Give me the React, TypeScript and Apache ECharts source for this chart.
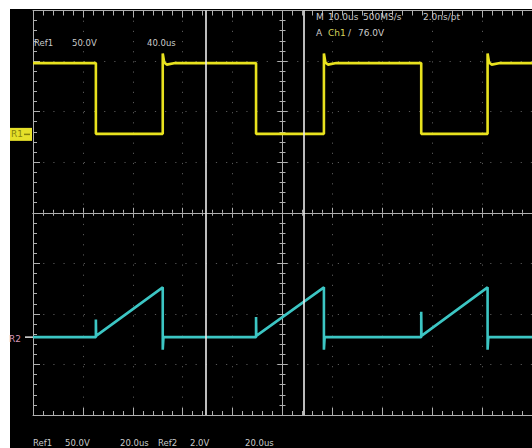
import React, { useEffect, useRef } from "react";
import * as echarts from "echarts";

// ---- data (time in µs relative to screen centre, volts) ----
const ref1TimeUs = [-50, -37.4, -37.4, -24.0, -24.0, -23.7, -23.2, -21.5, -5.3, -5.3, 8.3, 8.3, 8.6, 9.1, 10.8, 27.8, 27.8, 41.1, 41.1, 41.4, 41.9, 43.6, 50];
const ref1Volts = [70.5, 70.5, 0.5, 0.5, 80, 71, 69, 70.5, 70.5, 0.5, 0.5, 80, 71, 69, 70.5, 70.5, 0.5, 0.5, 80, 71, 69, 70.5, 70.5];

const ref2TimeUs = [-50, -37.4, -37.4, -37.35, -24.0, -24.0, -23.85, -5.3, -5.3, -5.25, 8.3, 8.3, 8.45, 27.8, 27.8, 27.85, 41.1, 41.1, 41.25, 50];
const ref2Volts = [0, 0, 0.7, 0.05, 1.97, -0.5, 0, 0, 0.8, 0.05, 1.97, -0.5, 0, 0, 1.0, 0.05, 1.97, -0.5, 0, 0];

const cursorTimesUs = [-15.35, 4.35];

const topLeftLabels = ["Ref1", "50.0V", "40.0us"];
const topRightLine1 = ["M", "10.0us", "500MS/s", "2.0ns/pt"];
const topRightLine2 = ["A", "Ch1", "/", "76.0V"];
const bottomLabels = ["Ref1", "50.0V", "20.0us", "Ref2", "2.0V", "20.0us"];
const markerLabels = ["R1", "R2"];

// ---- scales ----
const HALF_DIVS = 4;
const TIME_MIN = -50;
const TIME_MAX = 50;
const TIME_PER_DIV = 10;
const REF1_V_PER_DIV = 50;
const REF1_OFFSET_DIV = 1.55;
const REF2_V_PER_DIV = 2;
const REF2_OFFSET_DIV = -2.46;

const zip = (xs: number[], ys: number[]) => xs.map((x, i) => [x, ys[i]]);

export default function App() {
  const ref = useRef<HTMLDivElement>(null);
  useEffect(() => {
    const chart = echarts.init(ref.current!, null, { renderer: "svg" });
    const grey = "#b0b0b0";
    const lineStyle = { color: grey, width: 1 };
    const dotted = { color: "#565656", width: 1, type: [1.2, 8.96] };
    const xBase = {
      type: "value",
      min: TIME_MIN,
      max: TIME_MAX,
      interval: TIME_PER_DIV,
      axisLabel: { show: false },
      splitLine: { show: false },
    };
    const yBase = {
      type: "value",
      min: -HALF_DIVS,
      max: HALF_DIVS,
      interval: 1,
      axisLabel: { show: false },
      splitLine: { show: false },
    };
    const mkAxis = (base: any, position: string, onZero: boolean, major: number, minor: number, extra: any = {}) => ({
      ...base,
      position,
      axisLine: { show: true, onZero, onZeroAxisIndex: 0, lineStyle },
      axisTick: { show: true, inside: true, length: major, lineStyle },
      minorTick: { show: true, splitNumber: 5, length: minor, lineStyle },
      ...extra,
    });

    chart.setOption({
      animation: false,
      backgroundColor: "#000",
      grid: { left: 33, top: 10.5, width: 508, height: 404.5, containLabel: false },
      xAxis: [
        mkAxis(xBase, "bottom", false, 7, 4, { splitLine: { show: true, lineStyle: dotted } }),
        mkAxis(xBase, "top", false, 7, 5),
        mkAxis(xBase, "bottom", true, 5, 3),
        mkAxis(xBase, "top", true, 5, 3),
      ],
      yAxis: [
        mkAxis(yBase, "left", false, 7, 4, { splitLine: { show: true, lineStyle: dotted } }),
        mkAxis(yBase, "left", true, 5, 3),
        mkAxis(yBase, "right", true, 5, 3),
        {
          type: "value",
          show: false,
          position: "left",
          min: (-HALF_DIVS - REF1_OFFSET_DIV) * REF1_V_PER_DIV,
          max: (HALF_DIVS - REF1_OFFSET_DIV) * REF1_V_PER_DIV,
          splitLine: { show: false },
        },
        {
          type: "value",
          show: false,
          position: "left",
          min: (-HALF_DIVS - REF2_OFFSET_DIV) * REF2_V_PER_DIV,
          max: (HALF_DIVS - REF2_OFFSET_DIV) * REF2_V_PER_DIV,
          splitLine: { show: false },
        },
      ],
      series: [
        {
          name: "Ref1",
          type: "line",
          xAxisIndex: 0,
          yAxisIndex: 3,
          data: zip(ref1TimeUs, ref1Volts),
          showSymbol: false,
          symbol: "none",
          lineStyle: { color: "#e8e21e", width: 2.6 },
          z: 3,
          markLine: {
            silent: true,
            symbol: ["none", "none"],
            label: { show: false },
            lineStyle: { color: "#ececec", width: 1.6, type: "solid" },
            data: cursorTimesUs.map((t) => ({ xAxis: t })),
            z: 5,
          },
        },
        {
          name: "Ref2",
          type: "line",
          xAxisIndex: 0,
          yAxisIndex: 4,
          data: zip(ref2TimeUs, ref2Volts),
          showSymbol: false,
          symbol: "none",
          lineStyle: { color: "#3cc6c4", width: 2.6 },
          z: 3,
        },
      ],
    });

    const y1 = chart.convertToPixel({ yAxisIndex: 3 }, 0) as number;
    const y2 = chart.convertToPixel({ yAxisIndex: 4 }, 0) as number;
    const txt = "#cacaca";
    const font = "DejaVu Sans";
    const text = (s: string, x: number, y: number, size: number, fill = txt, va = "middle", z = 80) => ({
      type: "text",
      x,
      y,
      z,
      style: { text: s, fill, fontSize: size, fontFamily: font, verticalAlign: va, align: "left" },
    });
    const tlX = [34, 72, 147];
    const tr1X = [316, 328, 363, 423];
    const tr2X = [316, 328, 348, 358];
    const botX = [33, 65, 120, 158, 190, 245];

    chart.setOption({
      graphic: [
        { type: "rect", z: 100, shape: { x: 0, y: 0, width: 532, height: 9 }, style: { fill: "#fff" } },
        { type: "rect", z: 100, shape: { x: 0, y: 0, width: 10, height: 448 }, style: { fill: "#fff" } },
        ...topLeftLabels.map((s, i) => text(s, tlX[i], 43, 8.5)),
        ...topRightLine1.map((s, i) => text(s, tr1X[i], 16.5, 9)),
        ...topRightLine2.map((s, i) => text(s, tr2X[i], 32.5, 9, i === 1 ? "#d6d45a" : txt)),
        ...bottomLabels.map((s, i) => text(s, botX[i], 438.5, 8.5, txt, "top")),
        // R1 marker
        { type: "rect", z: 60, shape: { x: 9, y: y1 - 6.5, width: 23, height: 13 }, style: { fill: "#e6e02a" } },
        text(markerLabels[0], 11, y1, 9, "#86820e", "middle", 120),
        { type: "line", z: 120, shape: { x1: 24, y1: y1, x2: 30, y2: y1 }, style: { stroke: "#86820e", lineWidth: 1.5 } },
        // R2 marker
        text(markerLabels[1], 9, y2 + 2, 9, "#d696b6", "middle", 120),
        { type: "line", z: 61, shape: { x1: 25, y1: y2, x2: 33, y2: y2 }, style: { stroke: "#e2e2e2", lineWidth: 1.5 } },
      ],
    });

    return () => chart.dispose();
  }, []);
  return <div ref={ref} style={{ position: "fixed", left: 0, top: 0, width: 532, height: 448 }} />;
}
